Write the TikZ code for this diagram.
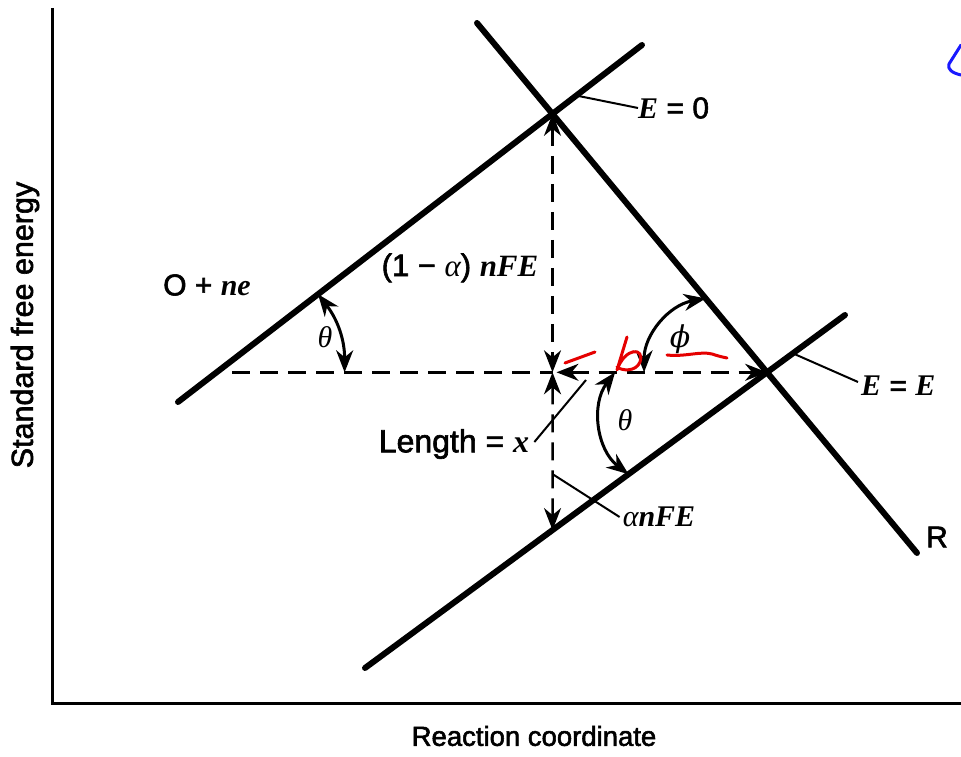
\documentclass[tikz,border=0pt]{standalone}
\usepackage{fontspec}
\setmainfont{Liberation Sans}[FakeBold=2]
\newfontfamily\tms{Liberation Serif}
\newfontfamily\dvs{DejaVu Serif}
\usetikzlibrary{arrows.meta,calc}
\tikzset{
  mainline/.style={line width=6pt, line cap=round},
  axisline/.style={line width=3pt},
  dashline/.style={line width=2.5pt, dash pattern=on 18pt off 10pt},
  arcline/.style={line width=3pt},
  leader/.style={line width=2pt},
  arr/.style={{Stealth[length=22pt,width=17pt,inset=7pt]}-{Stealth[length=22pt,width=17pt,inset=7pt]}},
  lab/.style={font=\fontsize{30}{32}\selectfont, inner sep=0pt},
  redmark/.style={draw=red!90!black, line width=3pt, line cap=round, line join=round},
  bluemark/.style={draw=blue!90!white, line width=3pt, line cap=round, line join=round}
}
\begin{document}
\begin{tikzpicture}[x=1pt,y=1pt]
\useasboundingbox (0,0) rectangle (961,757);
% key points
\coordinate (P1) at (178,355); \coordinate (P2) at (642,712);
\coordinate (Q1) at (477,734); \coordinate (Q2) at (917,204);
\coordinate (L1) at (365,89);  \coordinate (L2) at (845,442);
\coordinate (A) at (intersection of P1--P2 and Q1--Q2);
\coordinate (B) at (intersection of L1--L2 and Q1--Q2);
\coordinate (C) at (A |- B);
\coordinate (D) at (intersection of A--C and L1--L2);
\coordinate (h) at (232,0);
\coordinate (H0) at (h |- B);
% axes
\coordinate (Ytop) at (52,749); \coordinate (O) at (52,53); \coordinate (Xend) at (961,53);
\draw[axisline] (Ytop) -- (O) -- (Xend);
% curves
\draw[mainline] (P1) -- (P2);
\draw[mainline] (Q1) -- (Q2);
\draw[mainline] (L1) -- (L2);
% dashed construction
\draw[dashline] (H0) -- (C);
\draw[dashline, arr, shorten <=4pt] (C) -- (B);
\draw[dashline, arr] (A) -- (C);
\draw[dashline, arr] (C) -- (D);
% angle arcs
\coordinate (O1) at (intersection of P1--P2 and H0--B);
\coordinate (T1a) at ($(O1)+(128,0)$);
\coordinate (T1b) at ($(O1)!128pt!(P2)$);
\draw[arcline, arr] (T1a) to[bend right=19] (T1b);
\coordinate (F1) at ($(B)+(-123,0)$);
\coordinate (F2) at ($(B)!96pt!(Q1)$);
\draw[arcline, arr] (F1) to[bend left=40] (F2);
\coordinate (Th1) at ($(B)+(-152,0)$);
\coordinate (Th2) at ($(B)!172pt!(L1)$);
\draw[arcline, arr] (Th1) to[bend right=45] (Th2);
% labels
\node[lab] (lO) at (207,472) {O + {\tms\bfseries\itshape ne}};
\node[lab, font=\fontsize{31}{33}\selectfont] (l1a) at (460,489) {(1 − {\tms\itshape α}) {\tms\bfseries\itshape nFE}};
\node[lab, anchor=west] (lE0) at (638,649) {{\tms\bfseries\itshape E} = 0};
\node[lab, anchor=west] (lEE) at (861,371) {{\tms\bfseries\itshape E} = {\tms\bfseries\itshape E}};
\node[lab] (lR) at (937,220) {R};
\node[lab, font=\fontsize{32}{34}\selectfont] (lLen) at (454,313) {Length = {\tms\bfseries\itshape x}};
\node[lab] (lan) at (659,240) {{\tms\itshape α}{\tms\bfseries\itshape nFE}};
\node[lab] (th1) at (325,420) {{\tms\itshape θ}};
\node[lab] (th2) at (625,337) {{\tms\itshape θ}};
\node[lab] (phi) at (680,418) {{\dvs\itshape ϕ}};
\node[font=\fontsize{30.5}{32}\selectfont, rotate=90, inner sep=0pt] (ylab) at (25,432) {Standard free energy};
\node[font=\fontsize{27.5}{30}\selectfont, inner sep=0pt] (xlab) at (534,21) {Reaction coordinate};
% leaders
\coordinate (e0a) at ($(A)!30pt!(P2)$);
\draw[leader] (e0a) -- (lE0.west);
\coordinate (eea) at ($(B)!32pt!(L2)$);
\draw[leader] (eea) -- ($(lEE.west)+(-3,4)$);
\coordinate (lx) at (586,377);
\draw[leader] ($(lLen.east)+(5,2)$) -- (lx);
\coordinate (ln0) at ($(D)+(0,56)$);
\draw[leader] (ln0) -- ($(lan.west)+(-3,0)$);
% handwritten marks
\draw[redmark] (565,394) -- (595,405);
\draw[redmark] (627,420) -- (617,387) .. controls (625,410) and (645,410) .. (640,395) .. controls (636,385) and (622,386) .. (617,390);
\draw[redmark] (667,402) .. controls (685,400) and (700,406) .. (712,403) .. controls (718,401) and (722,400) .. (727,399);
\draw[bluemark] (961,712) -- (949,693) .. controls (947,688) and (952,684) .. (961,682);
\end{tikzpicture}
\end{document}
